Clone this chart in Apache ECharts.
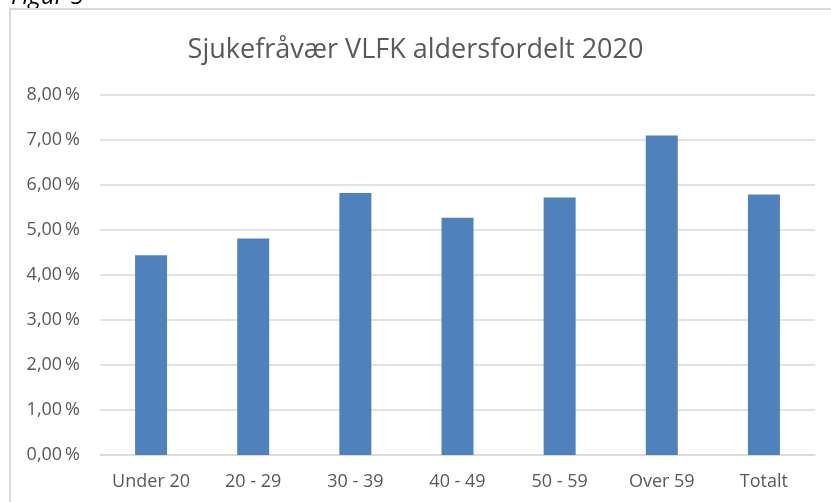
<!DOCTYPE html>
<html>
<head>
<meta charset="utf-8">
<script src="https://cdn.jsdelivr.net/npm/echarts@6/dist/echarts.min.js"></script>
<style>
html,body{margin:0;padding:0;background:#fff;}
#chart{width:831px;height:502px;}
</style>
</head>
<body>
<div id="chart"></div>
<script>
const categories = ['Under 20', '20 - 29', '30 - 39', '40 - 49', '50 - 59', 'Over 59', 'Totalt'];
const values = [4.44, 4.81, 5.82, 5.27, 5.72, 7.10, 5.79];
const yTicks = { min: 0, max: 8, interval: 1 };
const titleText = 'Sjukefråvær VLFK aldersfordelt 2020';
const captionText = 'Figur 5';

const FONT = 'Open Sans';
const chart = echarts.init(document.getElementById('chart'), null, { renderer: 'canvas' });
chart.setOption({
  backgroundColor: '#ffffff',
  animation: false,
  title: {
    text: titleText,
    left: 'center',
    top: 32,
    textStyle: { fontFamily: FONT, fontSize: 27, fontWeight: 'normal', color: '#595959' }
  },
  graphic: [
    {
      type: 'rect',
      shape: { x: 10, y: 9, width: 840, height: 520 },
      style: { fill: 'none', stroke: '#d9d9d9', lineWidth: 2 }
    },
    {
      type: 'text',
      x: 11,
      y: 9,
      z: -1,
      style: { text: captionText, font: 'italic 24px "Open Sans"', fill: '#000000', verticalAlign: 'bottom' }
    }
  ],
  grid: { left: 100, right: 16, top: 95, bottom: 47 },
  xAxis: {
    type: 'category',
    data: categories,
    axisLine: { lineStyle: { color: '#d9d9d9', width: 1.5 } },
    axisTick: { show: false },
    axisLabel: { fontFamily: FONT, fontSize: 18, color: '#595959', margin: 18 }
  },
  yAxis: {
    type: 'value',
    min: yTicks.min,
    max: yTicks.max,
    interval: yTicks.interval,
    axisLine: { show: false },
    axisTick: { show: false },
    splitLine: { lineStyle: { color: '#d9d9d9', width: 1.5 } },
    axisLabel: {
      fontFamily: FONT, fontSize: 18, color: '#595959', margin: 20,
      formatter: v => v.toFixed(2).replace('.', ',') + '\u2009%'
    }
  },
  series: [{
    type: 'bar',
    data: values,
    barWidth: 32,
    itemStyle: { color: '#4f81bd' }
  }]
});
</script>
</body>
</html>
